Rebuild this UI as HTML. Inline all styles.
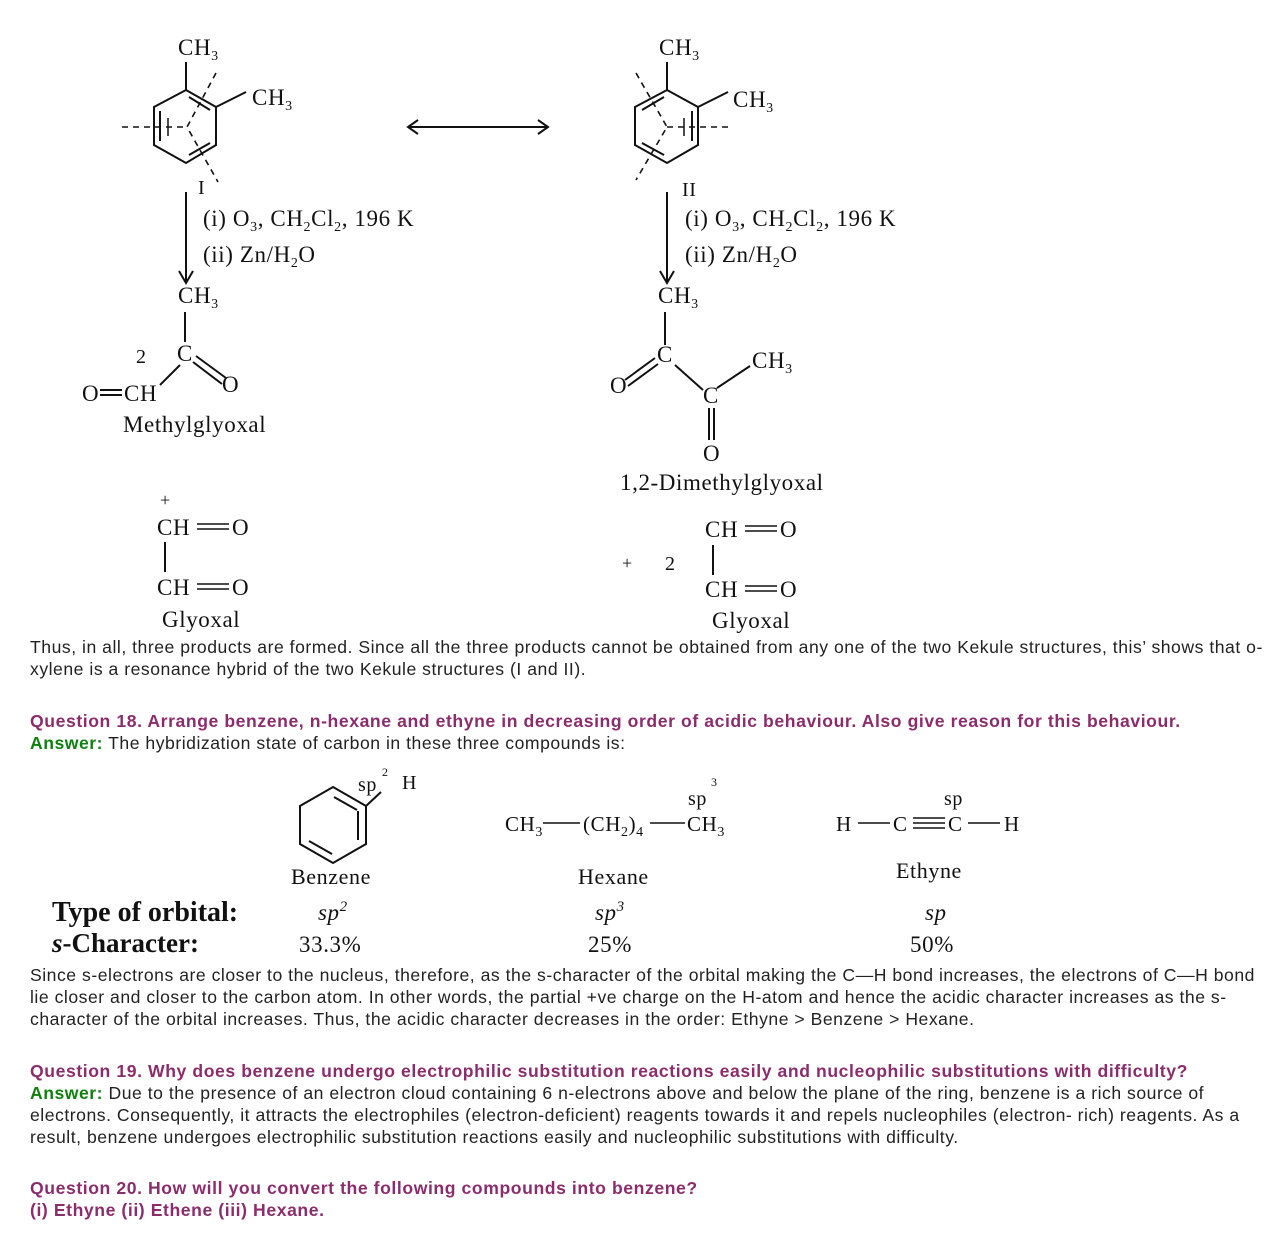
<!DOCTYPE html>
<html><head><meta charset="utf-8"><style>
body{margin:0;background:#fff;width:1275px;height:1237px;position:relative;overflow:hidden}
svg{position:absolute;left:0;top:0}
.t{position:absolute;left:30px;font-family:"Liberation Sans",Arial,sans-serif;font-size:17.6px;letter-spacing:0.52px;color:#222;white-space:nowrap;line-height:20px}
.q{color:#8b2d6b;font-weight:bold;letter-spacing:0.58px}
.a{color:#108010;font-weight:bold}
</style></head><body>
<svg width="1275" height="1237" viewBox="0 0 1275 1237" font-family="Liberation Serif,serif" font-size="23" letter-spacing="0.6" fill="#111">
<g stroke="#111" stroke-width="2" fill="none">
<polygon points="186,90 216,107 216,145 186,163 154,145 154,107"/>
<line x1="160" y1="111" x2="160" y2="141"/>
<line x1="189" y1="97" x2="210" y2="110"/>
<line x1="210" y1="143" x2="189" y2="155"/>
<line x1="186" y1="90" x2="186" y2="62"/>
<line x1="216" y1="107" x2="246" y2="92"/>
<g stroke-dasharray="6,5" stroke-width="1.6"><line x1="122" y1="127" x2="186" y2="127"/><polyline points="216,73 187,127 218,182"/></g>
<line x1="168" y1="118" x2="168" y2="136" stroke-width="1.5"/>
<polygon points="667,90 698,107 698,145 667,163 635,145 635,107"/>
<line x1="692" y1="111" x2="692" y2="141"/>
<line x1="664" y1="97" x2="642" y2="110"/>
<line x1="642" y1="143" x2="664" y2="155"/>
<line x1="667" y1="90" x2="667" y2="62"/>
<line x1="698" y1="107" x2="728" y2="92"/>
<g stroke-dasharray="6,5" stroke-width="1.6"><line x1="667" y1="127" x2="732" y2="127"/><polyline points="636,73 667,127 636,180"/></g>
<line x1="684" y1="118" x2="684" y2="136" stroke-width="1.5"/>
<line x1="408" y1="127" x2="548" y2="127"/>
<polyline points="418,120 408,127 418,134"/><polyline points="538,120 548,127 538,134"/>
<line x1="186" y1="192" x2="186" y2="282"/><polyline points="179,271 186,283 193,271"/>
<line x1="667" y1="192" x2="667" y2="282"/><polyline points="660,271 667,283 674,271"/>
<line x1="185" y1="312" x2="185" y2="342"/>
<line x1="180" y1="365" x2="160" y2="385"/>
<line x1="196" y1="356" x2="226" y2="378"/><line x1="193" y1="362" x2="222" y2="384"/>
<line x1="100" y1="390" x2="122" y2="390"/><line x1="100" y1="395" x2="122" y2="395"/>
<line x1="665" y1="312" x2="665" y2="345"/>
<line x1="655" y1="358" x2="625" y2="380"/><line x1="658" y1="364" x2="628" y2="386"/>
<line x1="675" y1="365" x2="703" y2="390"/>
<line x1="717" y1="388" x2="750" y2="366"/>
<line x1="709" y1="408" x2="709" y2="440"/><line x1="714" y1="408" x2="714" y2="440"/>
<line x1="165" y1="542" x2="165" y2="572"/>
<line x1="713" y1="545" x2="713" y2="575"/>
<g stroke-width="1.6">
<line x1="197" y1="524" x2="229" y2="524"/><line x1="197" y1="529" x2="229" y2="529"/>
<line x1="197" y1="584" x2="229" y2="584"/><line x1="197" y1="589" x2="229" y2="589"/>
<line x1="745" y1="526" x2="777" y2="526"/><line x1="745" y1="531" x2="777" y2="531"/>
<line x1="745" y1="586" x2="777" y2="586"/><line x1="745" y1="591" x2="777" y2="591"/>
</g>
<polygon points="333,787 366,806 366,844 333,863 300,844 300,806"/>
<line x1="334" y1="797" x2="357" y2="810"/><line x1="358" y1="811" x2="358" y2="840"/><line x1="309" y1="841" x2="332" y2="854"/>
<line x1="366" y1="806" x2="381" y2="792"/>
<line x1="543" y1="823" x2="580" y2="823" stroke-width="1.6"/>
<line x1="650" y1="823" x2="685" y2="823" stroke-width="1.6"/>
<line x1="858" y1="823" x2="890" y2="823" stroke-width="1.6"/>
<line x1="913" y1="818" x2="945" y2="818" stroke-width="1.6"/><line x1="913" y1="823" x2="945" y2="823" stroke-width="1.6"/><line x1="913" y1="828" x2="945" y2="828" stroke-width="1.6"/>
<line x1="968" y1="823" x2="1000" y2="823" stroke-width="1.6"/>
</g>
<text x="178" y="55">CH<tspan font-size="14" dy="5">3</tspan></text>
<text x="252" y="105">CH<tspan font-size="14" dy="5">3</tspan></text>
<text x="198" y="194" font-size="20">I</text>
<text x="659" y="55">CH<tspan font-size="14" dy="5">3</tspan></text>
<text x="733" y="107">CH<tspan font-size="14" dy="5">3</tspan></text>
<text x="682" y="196" font-size="20">II</text>
<text x="203" y="226">(i) O<tspan font-size="14" dy="5">3</tspan><tspan dy="-5">, CH</tspan><tspan font-size="14" dy="5">2</tspan><tspan dy="-5">Cl</tspan><tspan font-size="14" dy="5">2</tspan><tspan dy="-5">, 196 K</tspan></text>
<text x="203" y="262">(ii) Zn/H<tspan font-size="14" dy="5">2</tspan><tspan dy="-5">O</tspan></text>
<text x="685" y="226">(i) O<tspan font-size="14" dy="5">3</tspan><tspan dy="-5">, CH</tspan><tspan font-size="14" dy="5">2</tspan><tspan dy="-5">Cl</tspan><tspan font-size="14" dy="5">2</tspan><tspan dy="-5">, 196 K</tspan></text>
<text x="685" y="262">(ii) Zn/H<tspan font-size="14" dy="5">2</tspan><tspan dy="-5">O</tspan></text>
<text x="178" y="303">CH<tspan font-size="14" dy="5">3</tspan></text>
<text x="136" y="363" font-size="20">2</text>
<text x="177" y="361">C</text>
<text x="222" y="392">O</text>
<text x="82" y="401">O</text><text x="124" y="401">CH</text>
<text x="123" y="432">Methylglyoxal</text>
<text x="658" y="303">CH<tspan font-size="14" dy="5">3</tspan></text>
<text x="657" y="362">C</text>
<text x="610" y="393">O</text>
<text x="703" y="403">C</text>
<text x="752" y="368">CH<tspan font-size="14" dy="5">3</tspan></text>
<text x="703" y="461">O</text>
<text x="620" y="490">1,2-Dimethylglyoxal</text>
<text x="160" y="506" font-size="18">+</text>
<text x="157" y="535">CH</text><text x="232" y="535">O</text>
<text x="157" y="595">CH</text><text x="232" y="595">O</text>
<text x="162" y="627">Glyoxal</text>
<text x="705" y="537">CH</text><text x="780" y="537">O</text>
<text x="622" y="569" font-size="18">+</text><text x="665" y="570" font-size="20">2</text>
<text x="705" y="597">CH</text><text x="780" y="597">O</text>
<text x="712" y="628">Glyoxal</text>
<text x="358" y="791" font-size="20">sp</text><text x="382" y="776" font-size="12">2</text><text x="402" y="789" font-size="20">H</text>
<text x="505" y="831" font-size="21">CH<tspan font-size="14" dy="5">3</tspan></text>
<text x="583" y="831" font-size="21">(CH<tspan font-size="14" dy="5">2</tspan><tspan dy="-5">)</tspan><tspan font-size="14" dy="5">4</tspan></text>
<text x="687" y="831" font-size="21">CH<tspan font-size="14" dy="5">3</tspan></text>
<text x="688" y="805" font-size="20">sp</text><text x="711" y="786" font-size="12">3</text>
<text x="836" y="831" font-size="21">H</text><text x="893" y="831" font-size="21">C</text><text x="948" y="831" font-size="21">C</text><text x="1004" y="831" font-size="21">H</text>
<text x="944" y="805" font-size="20">sp</text>
<text x="291" y="884" font-size="22">Benzene</text>
<text x="578" y="884" font-size="22">Hexane</text>
<text x="896" y="878" font-size="22">Ethyne</text>
<text x="52" y="921" font-size="28" letter-spacing="0" font-weight="bold">Type of orbital:</text>
<text x="52" y="952" font-size="27" letter-spacing="0" font-weight="bold"><tspan font-style="italic">s</tspan>-Character:</text>
<text x="318" y="920" font-size="23" font-style="italic">sp<tspan font-size="15" dy="-9">2</tspan></text>
<text x="595" y="920" font-size="23" font-style="italic">sp<tspan font-size="15" dy="-9">3</tspan></text>
<text x="925" y="920" font-size="23" font-style="italic">sp</text>
<text x="299" y="952" font-size="23">33.3%</text>
<text x="588" y="952" font-size="23">25%</text>
<text x="910" y="952" font-size="23">50%</text>
</svg>
<div class="t" style="top:637px">Thus, in all, three products are formed. Since all the three products cannot be obtained from any one of the two Kekule structures, this’ shows that o-</div>
<div class="t" style="top:659px">xylene is a resonance hybrid of the two Kekule structures (I and II).</div>
<div class="t q" style="top:711px">Question 18. Arrange benzene, n-hexane and ethyne in decreasing order of acidic behaviour. Also give reason for this behaviour.</div>
<div class="t" style="top:733px"><span class="a">Answer:</span> The hybridization state of carbon in these three compounds is:</div>
<div class="t" style="top:965px">Since s-electrons are closer to the nucleus, therefore, as the s-character of the orbital making the C—H bond increases, the electrons of C—H bond</div>
<div class="t" style="top:987px">lie closer and closer to the carbon atom. In other words, the partial +ve charge on the H-atom and hence the acidic character increases as the s-</div>
<div class="t" style="top:1009px">character of the orbital increases. Thus, the acidic character decreases in the order: Ethyne &gt; Benzene &gt; Hexane.</div>
<div class="t q" style="top:1061px">Question 19. Why does benzene undergo electrophilic substitution reactions easily and nucleophilic substitutions with difficulty?</div>
<div class="t" style="top:1083px"><span class="a">Answer:</span> Due to the presence of an electron cloud containing 6 n-electrons above and below the plane of the ring, benzene is a rich source of</div>
<div class="t" style="top:1105px">electrons. Consequently, it attracts the electrophiles (electron-deficient) reagents towards it and repels nucleophiles (electron- rich) reagents. As a</div>
<div class="t" style="top:1127px">result, benzene undergoes electrophilic substitution reactions easily and nucleophilic substitutions with difficulty.</div>
<div class="t q" style="top:1178px">Question 20. How will you convert the following compounds into benzene?</div>
<div class="t q" style="top:1200px">(i) Ethyne (ii) Ethene (iii) Hexane.</div>
</body></html>
